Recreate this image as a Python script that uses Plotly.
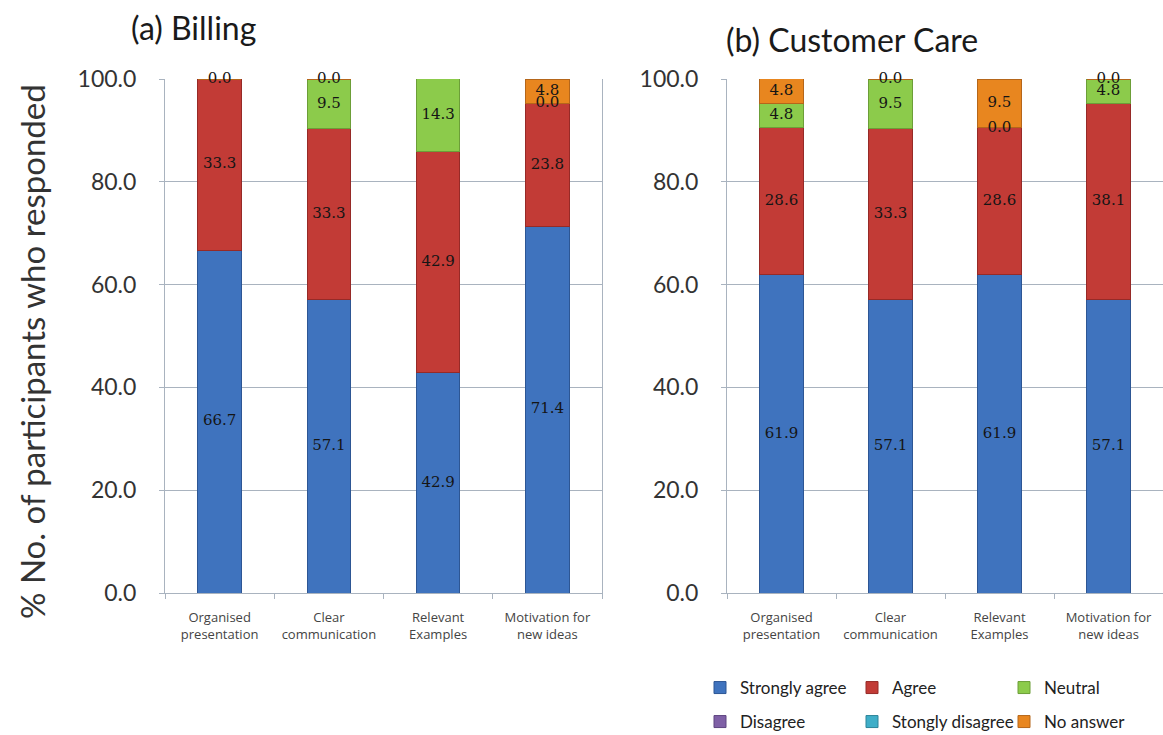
import plotly.graph_objects as go

W, H = 1163, 735

categories = ["Organised<br>presentation", "Clear<br>communication",
              "Relevant<br>Examples", "Motivation for<br>new ideas"]
series_names = ["Strongly agree", "Agree", "Neutral", "Disagree",
                "Stongly disagree", "No answer"]

# (a) Billing
billing_strongly_agree = [66.7, 57.1, 42.9, 71.4]
billing_agree = [33.3, 33.3, 42.9, 23.8]
billing_neutral = [0.0, 9.5, 14.3, 0.0]
billing_disagree = [None, None, None, None]
billing_strongly_disagree = [None, None, None, None]
billing_no_answer = [None, 0.0, 0.0, 4.8]

# (b) Customer Care
care_strongly_agree = [61.9, 57.1, 61.9, 57.1]
care_agree = [28.6, 33.3, 28.6, 38.1]
care_neutral = [4.8, 9.5, 0.0, 4.8]
care_disagree = [None, None, None, None]
care_strongly_disagree = [None, None, None, None]
care_no_answer = [4.8, 0.0, 9.5, 0.0]

y_ticks = [0, 20, 40, 60, 80, 100]

colors = ["#3F73BE", "#C23B36", "#8CCB4B", "#7F60A6", "#3FAEC8", "#E8861F"]
edge_colors = ["#2D5694", "#962A27", "#6C9E38", "#5E4580", "#2D8499", "#B5661A"]

panels = [
    ("x", "y", [billing_strongly_agree, billing_agree, billing_neutral,
                billing_disagree, billing_strongly_disagree, billing_no_answer]),
    ("x2", "y2", [care_strongly_agree, care_agree, care_neutral,
                  care_disagree, care_strongly_disagree, care_no_answer]),
]

fig = go.Figure()

for pi, (xa, ya, series) in enumerate(panels):
    for si, (name, vals) in enumerate(zip(series_names, series)):
        fig.add_trace(go.Bar(
            x=categories, y=[v if v is not None else 0 for v in vals],
            name=name, xaxis=xa, yaxis=ya,
            marker=dict(color=colors[si], line=dict(color=edge_colors[si], width=1)),
            width=0.4, legendgroup=name, showlegend=(pi == 1),
            legend="legend" if si < 3 else "legend2",
            hoverinfo="skip",
        ))
    # data labels, positioned from cumulative stacked values
    tx, ty, tt = [], [], []
    base = [0.0] * len(categories)
    for vals in series:
        for ci, v in enumerate(vals):
            if v is None:
                continue
            tx.append(categories[ci])
            ty.append(base[ci] + v / 2)
            tt.append(f"{v:.1f}")
        base = [b + (v or 0) for b, v in zip(base, vals)]
    fig.add_trace(go.Scatter(
        x=tx, y=ty, text=tt, mode="text", xaxis=xa, yaxis=ya,
        textfont=dict(family="DejaVu Serif", size=15, color="#151515"),
        showlegend=False, hoverinfo="skip", cliponaxis=False,
    ))

grid = "#A9B3BF"
sans = "Lato"
axis_font = dict(family=sans, size=23, color="#333333")

common_x = dict(
    showline=True, linecolor=grid, linewidth=1, ticks="outside", tickson="boundaries",
    ticklen=5, tickcolor=grid, tickfont=dict(family="Open Sans", size=13, color="#444444"),
    showgrid=False, fixedrange=True, ticklabelstandoff=12,
)
common_y = dict(
    range=[0, 100], tickvals=y_ticks, ticktext=[f"{t:.1f}" for t in y_ticks],
    showline=True, linecolor=grid, linewidth=1, ticks="outside", ticklen=5,
    tickcolor=grid, showgrid=True, gridcolor=grid, gridwidth=1,
    tickfont=axis_font, ticklabelstandoff=18, zeroline=False,
)

legend_common = dict(orientation="h", xanchor="left", yanchor="middle",
                     entrywidth=107, entrywidthmode="pixels", traceorder="normal",
                     font=dict(family=sans, size=17, color="#222222"),
                     bgcolor="rgba(0,0,0,0)")

fig.update_layout(
    width=W, height=H, barmode="stack", bargap=0.6,
    margin=dict(l=0, r=0, t=0, b=0, autoexpand=False),
    paper_bgcolor="white", plot_bgcolor="white",
    xaxis=dict(domain=[165 / W, 602 / W], anchor="y", **common_x),
    yaxis=dict(domain=[1 - 593 / H, 1 - 79 / H], anchor="x", mirror=True, **common_y),
    xaxis2=dict(domain=[727 / W, 1.0], anchor="y2", **common_x),
    yaxis2=dict(domain=[1 - 593 / H, 1 - 79 / H], anchor="x2", **common_y),
    legend=dict(x=700 / W, y=1 - 688 / H, **legend_common),
    legend2=dict(x=700 / W, y=1 - 722 / H, **legend_common),
    annotations=[
        dict(text="(a) Billing", x=193 / W, y=1 - 28 / H, xref="paper", yref="paper",
             xanchor="center", yanchor="middle",
             showarrow=False, font=dict(family=sans, size=32, color="#1a1a1a")),
        dict(text="(b) Customer Care", x=852 / W, y=1 - 40 / H, xref="paper", yref="paper",
             xanchor="center", yanchor="middle",
             showarrow=False, font=dict(family=sans, size=32, color="#1a1a1a")),
        dict(text="% No. of participants who responded", x=32 / W, y=1 - 352 / H,
             xref="paper", yref="paper", showarrow=False, textangle=-90,
             xanchor="center", yanchor="middle",
             font=dict(family=sans, size=33, color="#333333")),
    ],
)

fig.write_html("out.html")
